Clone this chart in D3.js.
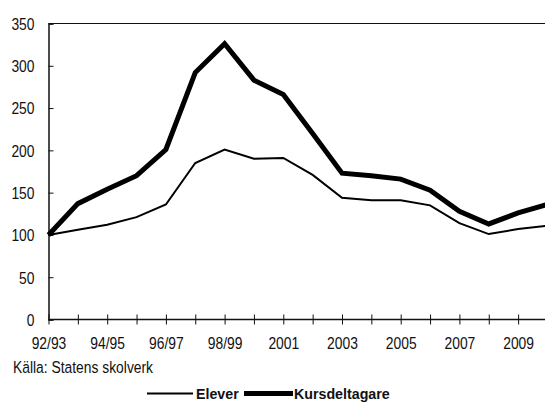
<!DOCTYPE html>
<html>
<head>
<meta charset="utf-8">
<script src="https://cdn.jsdelivr.net/npm/d3@7"></script>
<style>
  body { margin: 0; background: #fff; }
  svg { display: block; }
  text { font-family: "Liberation Sans", Arial, sans-serif; fill: #111; }
</style>
</head>
<body>
<svg id="chart" width="545" height="403"></svg>
<script>
// läsåren, varannan visas som etikett
const years = ["92/93", "93/94", "94/95", "95/96", "96/97", "97/98", "98/99", "99/00",
  "2001", "2002", "2003", "2004", "2005", "2006", "2007", "2008", "2009", "2010"]
const tickLabels = ["92/93", "94/95", "96/97", "98/99", "2001", "2003", "2005", "2007", "2009"]
const yTicks = [0, 50, 100, 150, 200, 250, 300, 350]
// index, 92/93 = 100
const elever = [100, 106, 112, 121, 136, 185, 201, 190, 191, 171, 144, 141, 141, 135, 114, 101, 107, 111]
const kursdeltagare = [100, 137, 154, 170, 201, 292, 326, 283, 266, 220, 173, 170, 166, 153, 128, 113, 126, 136]

const narrow = 0.84   // smal grotesk saknas, pressa ihop Liberation Sans
const narrowBold = 0.95

const svg = d3.select("#chart")

const x = d3.scalePoint()
  .domain(years)
  .range([48.5, 48.5 + 17 * 29.35])

const y = d3.scaleLinear()
  .domain([0, 350])
  .range([319.5, 23.5])

// ram överst
svg.append("line")
  .attr("x1", x.range()[0]).attr("x2", 545)
  .attr("y1", y(350)).attr("y2", y(350))
  .attr("stroke", "#111").attr("stroke-width", 1.2)

// y-axel
const yAxis = svg.append("g")
  .attr("transform", `translate(${x.range()[0]},0)`)
  .call(d3.axisRight(y).tickValues(yTicks).tickSize(5).tickFormat(d => d))
yAxis.select(".domain").attr("stroke", "#111").attr("stroke-width", 1.5)
yAxis.selectAll(".tick line").attr("stroke", "#111")
yAxis.selectAll("text")
  .attr("x", 0)
  .attr("dy", "0.35em")
  .attr("text-anchor", "end")
  .attr("transform", `translate(-14,0) scale(${narrow},1)`)
  .style("font-size", "16.5px")

// x-axel
const xAxis = svg.append("g")
  .attr("transform", `translate(0,${y(0)})`)
  .call(d3.axisBottom(x).tickSize(5).tickSizeOuter(0)
    .tickFormat(d => tickLabels.includes(d) ? d : ""))
xAxis.select(".domain").attr("stroke", "#111").attr("stroke-width", 1.5)
  .attr("d", `M${x.range()[0]},0H545`)
xAxis.selectAll(".tick line").attr("y1", -5).attr("y2", 5).attr("stroke", "#111")
xAxis.selectAll("text")
  .attr("y", 0)
  .attr("dy", 0)
  .attr("transform", `translate(0,29.5) scale(${narrow},1)`)
  .style("font-size", "16.5px")

// linjer
const line = d3.line()
  .x((d, i) => x(years[i]))
  .y(d => y(d))

svg.append("path")
  .datum(elever)
  .attr("fill", "none")
  .attr("stroke", "#000")
  .attr("stroke-width", 2)
  .attr("d", line)

svg.append("path")
  .datum(kursdeltagare)
  .attr("fill", "none")
  .attr("stroke", "#000")
  .attr("stroke-width", 5)
  .attr("d", line)

// källa
svg.append("text")
  .attr("transform", `translate(13,373) scale(${narrow},1)`)
  .style("font-size", "16.5px")
  .text("Källa: Statens skolverk")

// förklaring
const legend = [
  {name: "Elever", width: 2, x0: 147, x1: 193, tx: 196},
  {name: "Kursdeltagare", width: 5, x0: 244, x1: 293, tx: 294}
]
const lg = svg.append("g")
lg.selectAll("line")
  .data(legend)
  .join("line")
    .attr("x1", d => d.x0).attr("x2", d => d.x1)
    .attr("y1", 393.5).attr("y2", 393.5)
    .attr("stroke", "#000")
    .attr("stroke-width", d => d.width)
lg.selectAll("text")
  .data(legend)
  .join("text")
    .attr("transform", d => `translate(${d.tx},399) scale(${narrowBold},1)`)
    .style("font-size", "15px")
    .style("font-weight", "bold")
    .text(d => d.name)
</script>
</body>
</html>
